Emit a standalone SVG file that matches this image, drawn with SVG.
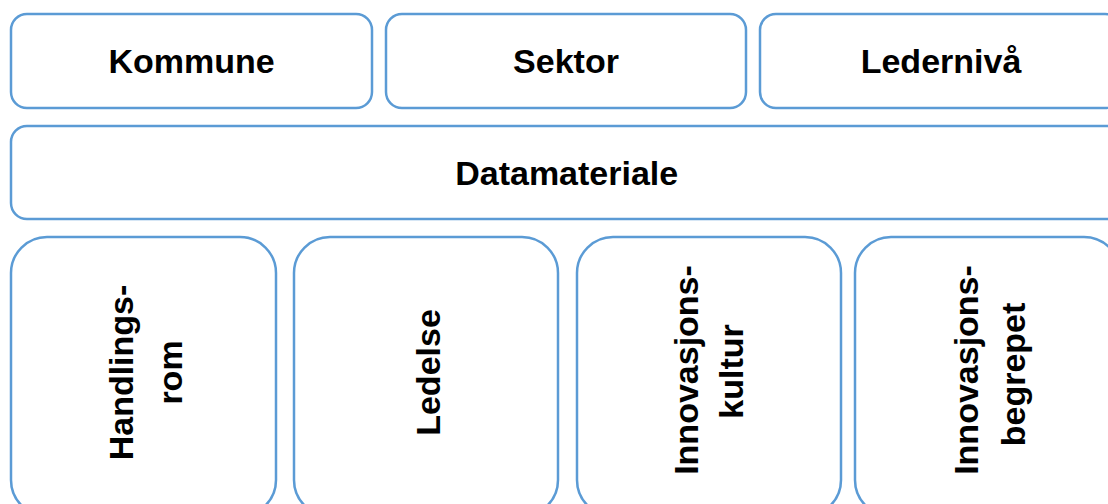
<svg xmlns="http://www.w3.org/2000/svg" width="1108" height="504" viewBox="0 0 1108 504">
  <style>
    .box { fill: #ffffff; stroke: #5b9bd5; stroke-width: 2.5; }
    .lbl { font-family: "Liberation Sans", Arial, sans-serif; font-weight: bold; font-size: 34px; fill: #000000; text-anchor: middle; }
  </style>
  <rect width="1108" height="504" fill="#ffffff"/>
  <g id="connectors"/>
  <g id="kommune">
    <rect class="box" x="11" y="14" width="361" height="94" rx="16" ry="16"/>
    <text class="lbl" x="191.5" y="73">Kommune</text>
  </g>
  <g id="sektor">
    <rect class="box" x="386" y="14" width="360" height="94" rx="16" ry="16"/>
    <text class="lbl" x="566" y="73">Sektor</text>
  </g>
  <g id="ledernivaa">
    <rect class="box" x="760" y="14" width="361" height="94" rx="16" ry="16"/>
    <text class="lbl" x="941" y="73">Ledernivå</text>
  </g>
  <g id="datamateriale">
    <rect class="box" x="11" y="126" width="1112" height="93" rx="16" ry="16"/>
    <text class="lbl" x="566.7" y="185">Datamateriale</text>
  </g>
  <g id="handlingsrom">
    <rect class="box" x="11" y="237" width="265" height="279" rx="36" ry="36"/>
    <text class="lbl" transform="translate(133.3,372.5) rotate(-90)">Handlings-</text>
    <text class="lbl" transform="translate(181.7,372.5) rotate(-90)">rom</text>
  </g>
  <g id="ledelse">
    <rect class="box" x="294" y="237" width="264" height="279" rx="36" ry="36"/>
    <text class="lbl" transform="translate(440,372.5) rotate(-90)">Ledelse</text>
  </g>
  <g id="innovasjonskultur">
    <rect class="box" x="577" y="237" width="264" height="279" rx="36" ry="36"/>
    <text class="lbl" transform="translate(698,370) rotate(-90)">Innovasjons-</text>
    <text class="lbl" transform="translate(743,371.5) rotate(-90)">kultur</text>
  </g>
  <g id="innovasjonsbegrepet">
    <rect class="box" x="855" y="237" width="265" height="279" rx="36" ry="36"/>
    <text class="lbl" transform="translate(978,370) rotate(-90)">Innovasjons-</text>
    <text class="lbl" transform="translate(1025,374.5) rotate(-90)">begrepet</text>
  </g>
</svg>
